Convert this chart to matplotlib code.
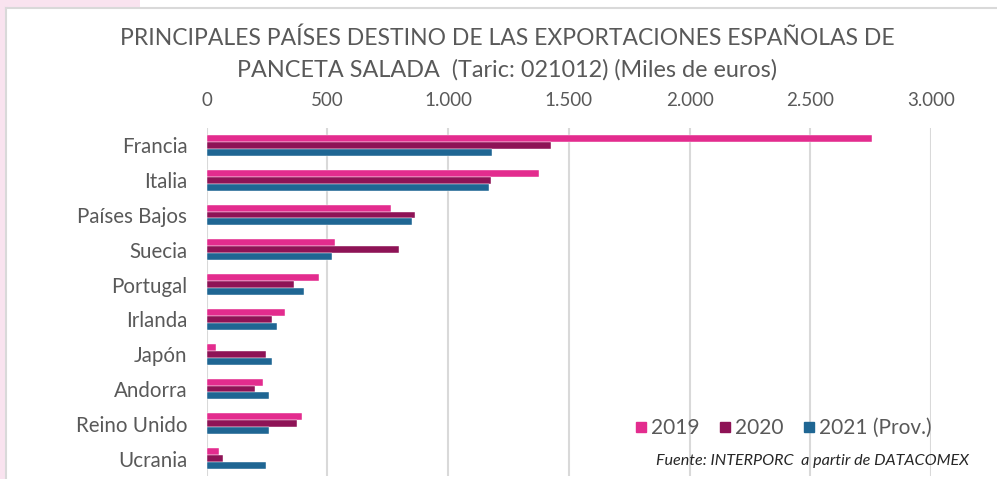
import numpy as np
import matplotlib.pyplot as plt
from matplotlib.lines import Line2D
from matplotlib.patches import Rectangle
from matplotlib.ticker import FuncFormatter

plt.rcParams['font.family'] = ['Lato', 'DejaVu Sans']

## data (miles de euros)
paises = ['Francia', 'Italia', 'Países Bajos', 'Suecia', 'Portugal',
          'Irlanda', 'Japón', 'Andorra', 'Reino Unido', 'Ucrania']
v2019 = [2756, 1376, 762, 530, 467, 325, 37, 235, 395, 50]
v2020 = [1427, 1178, 863, 796, 362, 269, 245, 201, 374, 66]
v2021 = [1182, 1170, 850, 518, 403, 290, 269, 257, 257, 245]
series_labels = ['2019', '2020', '2021 (Prov.)']
colors = ['#E32C8E', '#8E1356', '#1F6693']
xticks = [0, 500, 1000, 1500, 2000, 2500, 3000]

gray_txt = '#595959'

fig = plt.figure(figsize=(9.97, 4.79), dpi=100)
fig.patch.set_facecolor('white')

## background strip and frame of the chart box
fig.patches.append(Rectangle((0, 0), 5.5 / 997, 1, transform=fig.transFigure,
                             facecolor='#F9E3EF', edgecolor='none', zorder=0))
fig.patches.append(Rectangle((0, 1 - 7 / 479), 140 / 997, 7 / 479, transform=fig.transFigure,
                             facecolor='#F9E3EF', edgecolor='none', zorder=0))
fig.add_artist(Line2D([6 / 997, 6 / 997], [0, 1 - 7.5 / 479], transform=fig.transFigure,
                      color='#D9D9D9', lw=1.5))
fig.add_artist(Line2D([6 / 997, 1], [1 - 7.5 / 479, 1 - 7.5 / 479], transform=fig.transFigure,
                      color='#D9D9D9', lw=1.5))

ax = fig.add_axes([206.7 / 997, 1 - 476 / 479, (931 - 206.7) / 997, (476 - 128) / 479])

y = np.arange(len(paises))
h = 0.2
for i, (vals, lab, col) in enumerate(zip([v2019, v2020, v2021], series_labels, colors)):
    ax.barh(y + (i - 1) * h, vals, height=h, color=col, label=lab,
            edgecolor='white', linewidth=0.3, zorder=3)

ax.set_ylim(len(paises) - 0.5, -0.5)
ax.set_xlim(0, 3000)
ax.set_xticks(xticks)
ax.xaxis.set_major_formatter(FuncFormatter(lambda v, p: f'{int(v):,}'.replace(',', '.')))
ax.xaxis.tick_top()
ax.grid(axis='x', color='#D9D9D9', linewidth=1.5, zorder=0)
ax.set_yticks(y)
ax.set_yticklabels(paises)
ax.tick_params(axis='x', length=0, pad=14, labelsize=13.5, labelcolor=gray_txt)
ax.tick_params(axis='y', length=0, pad=14, labelsize=14.8, labelcolor=gray_txt)
for s in ax.spines.values():
    s.set_visible(False)

## legend
handles = [Line2D([], [], marker='s', linestyle='none', markersize=7.5,
                  markerfacecolor=c, markeredgecolor=c) for c in colors]
fig.legend(handles, series_labels, loc='center', bbox_to_anchor=(783 / 997, 1 - 428 / 479),
           ncol=3, frameon=False, fontsize=15, handlelength=0.6, handletextpad=0.2,
           columnspacing=0.9, labelcolor=gray_txt)

## title and source
fig.text(507 / 997, 1 - 38 / 479, 'PRINCIPALES PAÍSES DESTINO DE LAS EXPORTACIONES ESPAÑOLAS DE',
         ha='center', va='center', fontsize=16.5, color=gray_txt)
fig.text(507 / 997, 1 - 70 / 479, 'PANCETA SALADA  (Taric: 021012) (Miles de euros)',
         ha='center', va='center', fontsize=16.8, color=gray_txt)
fig.text(812 / 997, 1 - 461 / 479, 'Fuente: INTERPORC  a partir de DATACOMEX',
         ha='center', va='center', fontsize=11.6, style='italic', color='#262626')

fig.savefig('out.png', dpi=100, facecolor=fig.get_facecolor())
